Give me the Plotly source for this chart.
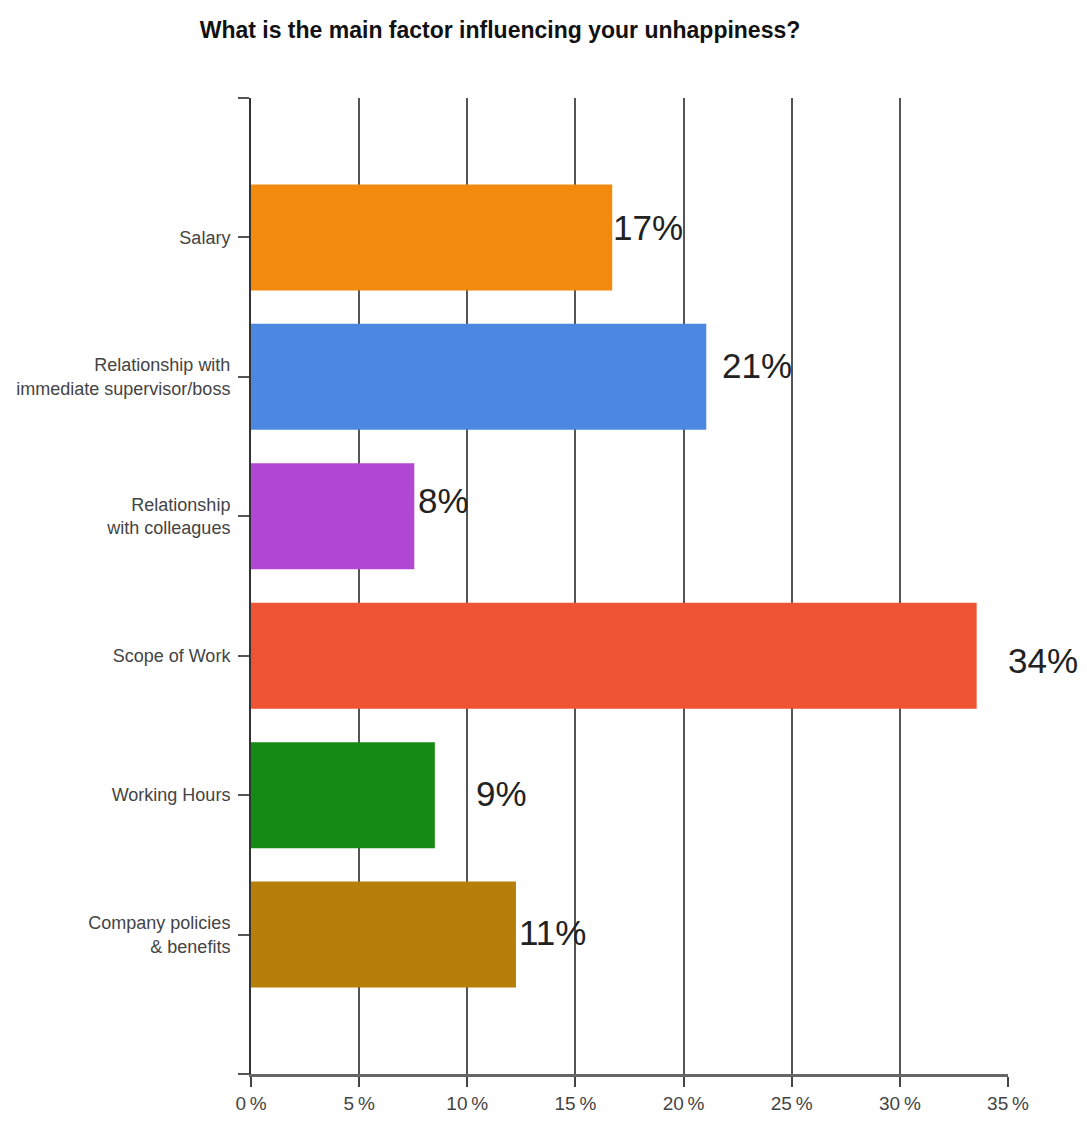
import plotly.graph_objects as go

# ---- data ----
categories = [
    "Salary",
    "Relationship with<br>immediate supervisor/boss",
    "Relationship<br>with colleagues",
    "Scope of Work",
    "Working Hours",
    "Company policies<br>& benefits",
]
values = [16.7, 21.05, 7.55, 33.55, 8.5, 12.25]
value_labels = ["17%", "21%", "8%", "34%", "9%", "11%"]
x_ticks = [0, 5, 10, 15, 20, 25, 30, 35]
x_tick_text = ["0\u2009%", "5\u2009%", "10\u2009%", "15\u2009%", "20\u2009%", "25\u2009%", "30\u2009%", "35\u2009%"]

# ---- styles ----
bar_colors = ["#F28A0E", "#4C87E2", "#B247D3", "#EE5333", "#148A14", "#B67F0A"]
label_dx = [-0.05, 0.65, 0.1, 1.38, 1.8, 0.05]      # horizontal offset (data units) of value labels
label_dy = [-10, -11, -16, 5, -2, -2]                # vertical offset (px, screen-down positive)

FONT = "Liberation Sans, Arial, sans-serif"

pos = list(range(len(categories)))

fig = go.Figure()
fig.add_trace(go.Bar(
    x=values,
    y=pos,
    orientation="h",
    width=0.76,
    marker=dict(color=bar_colors, line=dict(width=0)),
    hoverinfo="skip",
))

for i, (v, t) in enumerate(zip(values, value_labels)):
    fig.add_annotation(
        x=v + label_dx[i], y=pos[i], text=t, showarrow=False,
        xanchor="left", yanchor="middle", yshift=-label_dy[i],
        font=dict(family=FONT, size=35, color="#222222"),
    )

fig.update_layout(
    width=1087, height=1121,
    margin=dict(l=251, r=79, t=98, b=47),
    paper_bgcolor="white", plot_bgcolor="white",
    showlegend=False,
    title=dict(
        text="<b>What is the main factor influencing your unhappiness?</b>",
        x=500 / 1087, xanchor="center", xref="container",
        y=1 - 30 / 1121, yanchor="middle", yref="container",
        font=dict(family=FONT, size=23, color="#111111"),
    ),
    font=dict(family=FONT),
)

fig.update_xaxes(
    range=[0, 35], tickmode="array", tickvals=x_ticks, ticktext=x_tick_text,
    showgrid=True, gridcolor="#555555", gridwidth=2,
    showline=True, linecolor="#666666", linewidth=3,
    ticks="outside", ticklen=10, tickcolor="#444444", tickwidth=1.5,
    tickfont=dict(family=FONT, size=19, color="#444444"),
    zeroline=False, fixedrange=True, automargin=False,
)

fig.update_yaxes(
    range=[6, -1], tickmode="array",
    tickvals=[-1] + pos + [6], ticktext=[""] + categories + [""],
    showgrid=False, zeroline=False,
    showline=True, linecolor="#333333", linewidth=2,
    ticks="outside", ticklen=11, tickcolor="#555555", tickwidth=1.5,
    tickfont=dict(family=FONT, size=18, color="#444444"),
    ticklabelstandoff=4, fixedrange=True, automargin=False,
)

fig.write_html("out.html")
